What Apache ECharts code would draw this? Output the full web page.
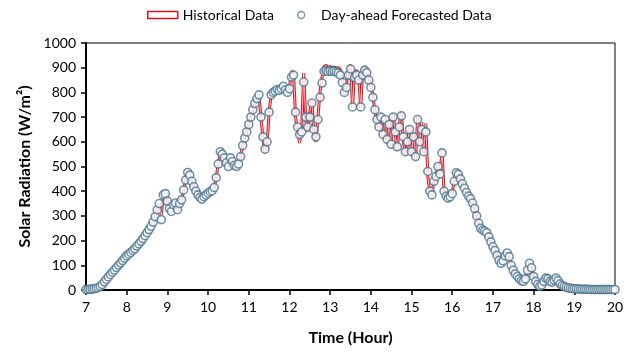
<!DOCTYPE html>
<html>
<head>
<meta charset="utf-8">
<script src="https://cdn.jsdelivr.net/npm/echarts@6/dist/echarts.min.js"></script>
<style>
  html, body { margin: 0; padding: 0; background: #fff; }
  #main { width: 642px; height: 357px; }
</style>
</head>
<body>
<div id="main"></div>
<script>
// 3-minute samples from 7:00 to 20:00 (20 per hour)
const startHour = 7
const stepHour = 3 / 60

// day-ahead forecast (markers), W/m2
const forecast = [
  2, 2, 3, 4, 5, 7, 10, 15, 22, 33, 43, 53, 63, 72, 81, 91, 101, 110, 119, 129,                     // 7h
  138, 145, 152, 160, 167, 178, 187, 197, 208, 220, 232, 245, 258, 275, 297, 325, 350, 285, 385, 390, // 8h
  360, 330, 318, 345, 352, 325, 350, 365, 405, 445, 476, 465, 440, 418, 400, 385, 375, 368, 378, 385, // 9h
  392, 398, 402, 415, 455, 510, 560, 550, 535, 515, 500, 535, 520, 505, 500, 510, 540, 585, 615, 640, // 10h
  670, 700, 730, 755, 775, 790, 700, 620, 570, 600, 720, 790, 800, 805, 812, 808, 815, 825, 810, 800, // 11h
  815, 862, 870, 720, 660, 630, 640, 842, 700, 660, 700, 757, 650, 620, 690, 780, 838, 885, 888, 885, // 12h
  888, 885, 886, 882, 878, 870, 840, 800, 820, 870, 895, 741, 860, 870, 850, 741, 870, 890, 880, 850, // 13h
  820, 780, 730, 690, 660, 700, 630, 690, 610, 670, 590, 700, 640, 580, 660, 705, 620, 560, 600, 650, // 14h
  560, 620, 540, 690, 600, 650, 560, 640, 480, 400, 385, 440, 460, 500, 470, 555, 400, 380, 372, 378, // 15h
  390, 440, 475, 468, 450, 430, 412, 395, 380, 370, 352, 330, 300, 270, 250, 242, 238, 232, 215, 195, // 16h
  175, 160, 140, 120, 108, 118, 138, 150, 135, 100, 80, 65, 55, 45, 38, 35, 45, 80, 108, 90,          // 17h
  55, 35, 22, 15, 20, 35, 48, 45, 35, 32, 40, 48, 38, 25, 18, 14, 11, 9, 7, 6,                      // 18h
  5, 5, 4, 4, 3, 3, 3, 3, 2, 2, 2, 2, 2, 2, 2, 2, 2, 2, 2, 2,                                        // 19h
  2                                                                                                  // 20h
]

// measured (red line), W/m2
const historical = [
  2, 2, 3, 4, 5, 7, 10, 15, 22, 33, 43, 53, 63, 72, 81, 91, 101, 110, 119, 129,
  138, 145, 152, 160, 167, 178, 187, 197, 208, 220, 232, 245, 258, 275, 297, 325, 350, 305, 385, 390,
  360, 330, 318, 345, 352, 325, 350, 365, 405, 445, 476, 465, 440, 418, 400, 385, 375, 368, 378, 385,
  392, 398, 402, 415, 455, 510, 560, 550, 535, 515, 500, 535, 520, 505, 500, 510, 540, 585, 615, 640,
  670, 700, 730, 755, 775, 790, 700, 610, 555, 585, 720, 790, 800, 805, 812, 808, 815, 830, 810, 800,
  820, 885, 880, 700, 640, 595, 650, 878, 690, 640, 720, 770, 630, 600, 700, 800, 860, 905, 910, 900,
  905, 900, 902, 898, 900, 892, 860, 790, 830, 895, 912, 740, 880, 890, 870, 735, 895, 900, 895, 865,
  830, 790, 720, 680, 650, 710, 615, 700, 595, 680, 580, 715, 630, 565, 670, 715, 600, 545, 590, 665,
  545, 630, 530, 700, 590, 680, 550, 675, 460, 395, 380, 445, 455, 510, 470, 565, 395, 378, 370, 378,
  390, 445, 485, 480, 455, 430, 412, 395, 380, 370, 352, 330, 300, 270, 250, 242, 238, 232, 215, 195,
  175, 160, 140, 120, 108, 118, 138, 150, 135, 100, 80, 65, 55, 45, 38, 35, 45, 80, 108, 90,
  55, 35, 22, 15, 20, 35, 48, 45, 35, 32, 40, 48, 38, 25, 18, 14, 11, 9, 7, 6,
  5, 5, 4, 4, 3, 3, 3, 3, 2, 2, 2, 2, 2, 2, 2, 2, 2, 2, 2, 2,
  2
]

const xTicks = [7, 8, 9, 10, 11, 12, 13, 14, 15, 16, 17, 18, 19, 20]
const yTicks = [0, 100, 200, 300, 400, 500, 600, 700, 800, 900, 1000]

const toPairs = arr => arr.map((v, i) => [startHour + i * stepHour, v])

const fontFamily = 'Lato, "Open Sans", sans-serif'
const chart = echarts.init(document.getElementById('main'), null, { renderer: 'canvas' })

const axisCommon = {
  axisLine: { show: true, lineStyle: { color: '#000', width: 2 } },
  axisTick: { show: true, inside: false, length: 5, lineStyle: { color: '#000', width: 1.5 } },
  splitLine: { show: false },
  axisLabel: { color: '#000', fontSize: 14, fontFamily: fontFamily, margin: 10, formatter: v => String(v) }
}

chart.setOption({
  animation: false,
  textStyle: { fontFamily: fontFamily },
  legend: {
    left: 142,
    top: 3,
    itemGap: 23,
    itemWidth: 30,
    itemHeight: 7,
    textStyle: { color: '#000', fontSize: 14, fontFamily: fontFamily },
    data: [
      { name: 'Historical Data', icon: 'rect', itemStyle: { color: '#fff', borderColor: '#e0141c', borderWidth: 1.5 } },
      { name: 'Day-ahead Forecasted Data', icon: 'circle', itemStyle: { color: '#fff', borderColor: '#4a7490', borderWidth: 1.3 } }
    ]
  },
  grid: {
    left: 86,
    right: 27,
    top: 43,
    bottom: 67,
    show: true,
    borderColor: '#000',
    borderWidth: 1
  },
  xAxis: Object.assign({}, axisCommon, {
    type: 'value',
    min: xTicks[0],
    max: xTicks[xTicks.length - 1],
    interval: 1,
    name: 'Time (Hour)',
    nameLocation: 'middle',
    nameGap: 40,
    nameTextStyle: { color: '#000', fontSize: 16, fontWeight: 'bold', fontFamily: fontFamily }
  }),
  yAxis: Object.assign({}, axisCommon, {
    type: 'value',
    min: yTicks[0],
    max: yTicks[yTicks.length - 1],
    interval: 100,
    name: 'Solar Radiation (W/m²)',
    nameLocation: 'middle',
    nameGap: 52,
    nameTextStyle: { color: '#000', fontSize: 16, fontWeight: 'bold', fontFamily: fontFamily }
  }),
  series: [
    {
      name: 'Historical Data',
      type: 'line',
      data: toPairs(historical),
      showSymbol: false,
      symbol: 'none',
      lineStyle: { color: '#e0141c', width: 3 },
      z: 2,
      silent: true
    },
    {
      // light core of the red line
      name: 'core',
      type: 'line',
      data: toPairs(historical),
      showSymbol: false,
      symbol: 'none',
      lineStyle: { color: '#fff', width: 0.9, opacity: 0.8 },
      z: 3,
      silent: true
    },
    {
      name: 'Day-ahead Forecasted Data',
      type: 'scatter',
      data: toPairs(forecast),
      symbol: 'circle',
      symbolSize: 8,
      itemStyle: { color: '#fff', borderColor: '#4a7490', borderWidth: 1.6 },
      z: 4,
      silent: true
    }
  ]
})
</script>
</body>
</html>
